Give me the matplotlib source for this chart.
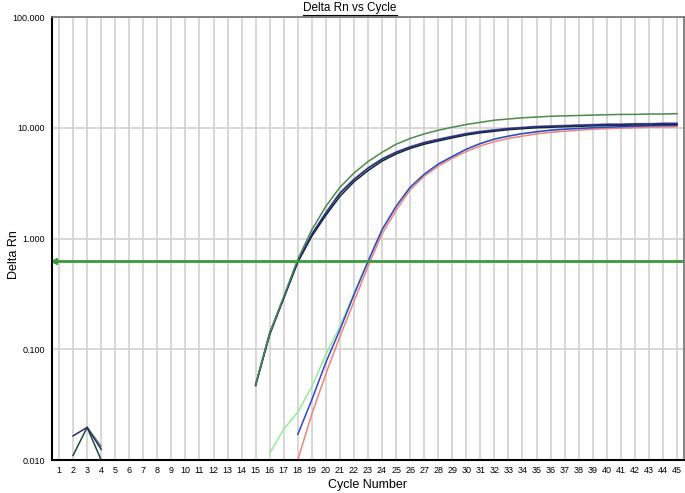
import numpy as np
import matplotlib
matplotlib.use("Agg")
import matplotlib.pyplot as plt
from matplotlib.lines import Line2D

plt.rcParams['font.family'] = ['Liberation Sans', 'DejaVu Sans']

# amplification curves (Delta Rn per cycle)
early_cycles = list(range(15, 46))
green_a = [0.048, 0.14, 0.30, 0.65, 1.2, 1.95, 2.9, 3.9, 4.95, 6.0, 7.1, 8.0, 8.8, 9.5, 10.1,
           10.7, 11.2, 11.7, 12.0, 12.3, 12.5, 12.7, 12.8, 12.9, 13.0, 13.1, 13.2, 13.2, 13.3, 13.3, 13.4]
navy_a = [0.048, 0.14, 0.29, 0.62, 1.09, 1.7, 2.55, 3.4, 4.3, 5.2, 6.0, 6.7, 7.3, 7.8, 8.3,
          8.8, 9.2, 9.5, 9.8, 10.0, 10.2, 10.3, 10.4, 10.5, 10.6, 10.7, 10.7, 10.8, 10.8, 10.9, 10.9]
gray_a = [0.048, 0.14, 0.29, 0.63, 1.1, 1.72, 2.6, 3.45, 4.35, 5.25, 6.05, 6.75, 7.4, 7.9, 8.4,
          8.9, 9.3, 9.6, 9.9, 10.1, 10.3, 10.4, 10.5, 10.6, 10.7, 10.8, 10.8, 10.9, 10.9, 11.0, 11.0]
dark_a = [0.047, 0.135, 0.29, 0.61, 1.05, 1.62, 2.4, 3.25, 4.1, 5.0, 5.8, 6.5, 7.1, 7.6, 8.1,
          8.6, 9.0, 9.3, 9.6, 9.8, 10.0, 10.1, 10.2, 10.3, 10.4, 10.5, 10.5, 10.6, 10.6, 10.7, 10.7]

late_cycles = list(range(18, 46))
blue_b = [0.017, 0.035, 0.076, 0.15, 0.31, 0.62, 1.2, 1.95, 2.9, 3.8, 4.7, 5.5, 6.4, 7.2,
          7.9, 8.4, 8.85, 9.2, 9.5, 9.7, 9.85, 10.0, 10.1, 10.2, 10.3, 10.4, 10.45, 10.5]
pink_b = [0.010, 0.026, 0.06, 0.13, 0.27, 0.56, 1.1, 1.8, 2.75, 3.65, 4.5, 5.3, 6.1, 6.85,
          7.5, 8.0, 8.4, 8.8, 9.1, 9.3, 9.5, 9.7, 9.8, 9.9, 10.0, 10.1, 10.15, 10.2]
lgreen_cycles = list(range(16, 46))
lgreen_b = [0.0115, 0.019, 0.027, 0.046, 0.09, 0.16, 0.32, 0.63, 1.2, 1.95, 2.9, 3.8, 4.7, 5.5,
            6.4, 7.2, 7.9, 8.4, 8.85, 9.2, 9.5, 9.75, 9.95, 10.1, 10.2, 10.3, 10.4, 10.5, 10.55, 10.6]

# noise at the first cycles
noise_cycles = [2, 3, 4]
noise_navy = [0.0165, 0.0197, 0.0125]
noise_dark = [0.011, 0.0197, 0.010]
noise_gray = [np.nan, 0.0197, 0.0133]

threshold = 0.63

fig = plt.figure(figsize=(6.85, 4.93), dpi=100)
ax = fig.add_axes([52 / 685, 1 - 460 / 493, 632 / 685, 443 / 493])

ax.set_yscale('log')
ax.set_xlim(0.5, 45.5)
ax.set_ylim(0.01, 100)

ax.set_xticks(range(1, 46))
ax.set_xticklabels([str(c) for c in range(1, 46)], fontsize=6.5)
ax.set_yticks([0.01, 0.1, 1, 10, 100])
ax.set_yticklabels(['0.010', '0.100', '1.000', '10.000', '100.000'], fontsize=6.5)
ax.yaxis.set_minor_locator(matplotlib.ticker.NullLocator())
ax.tick_params(axis='x', length=0, pad=4)
ax.tick_params(axis='y', length=0, pad=5)

ax.grid(True, which='major', color='#d4d4d4', linewidth=1.3)
ax.set_axisbelow(True)

for s in ['left', 'bottom']:
    ax.spines[s].set_color('black')
    ax.spines[s].set_linewidth(1.5)
for s in ['top', 'right']:
    ax.spines[s].set_color('#707070')
    ax.spines[s].set_linewidth(1.2)

lw = 1.1
ax.plot(late_cycles, pink_b, color='#f08080', lw=lw)
ax.plot(lgreen_cycles, lgreen_b, color='#90ee90', lw=lw)
ax.plot(late_cycles, blue_b, color='#3344cc', lw=lw)
ax.plot(early_cycles, gray_a, color='#8080a8', lw=lw)
ax.plot(early_cycles, dark_a, color='#0c2c2c', lw=lw)
ax.plot(early_cycles, navy_a, color='#2a2a80', lw=lw)
ax.plot(early_cycles, green_a, color='#4a8a4a', lw=lw)

ax.plot(noise_cycles, noise_gray, color='#5a8a7a', lw=lw, clip_on=False)
ax.plot(noise_cycles, noise_dark, color='#1c4c3c', lw=lw, clip_on=False)
ax.plot(noise_cycles, noise_navy, color='#2a2a70', lw=lw, clip_on=False)

ax.axhline(threshold, color='#3a9a3a', lw=2)
ax.plot([0.62], [threshold], marker='<', color='#3a9a3a', markersize=4, clip_on=False)

fig.text(368 / 685, 1 - 485 / 493, 'Cycle Number', ha='center', va='center', fontsize=9)
fig.text(14 / 685, 1 - 255 / 493, 'Delta Rn', ha='center', va='center', fontsize=9, rotation=90)

title = fig.text(0.511, 1 - 8 / 493, 'Delta Rn vs Cycle', ha='center', va='center', fontsize=8.5)
fig.canvas.draw()
bb = title.get_window_extent().transformed(fig.transFigure.inverted())
fig.add_artist(Line2D([bb.x0, bb.x1], [bb.y0 - 0.002, bb.y0 - 0.002], color='black', lw=0.8))

fig.savefig('out.png', dpi=100)
